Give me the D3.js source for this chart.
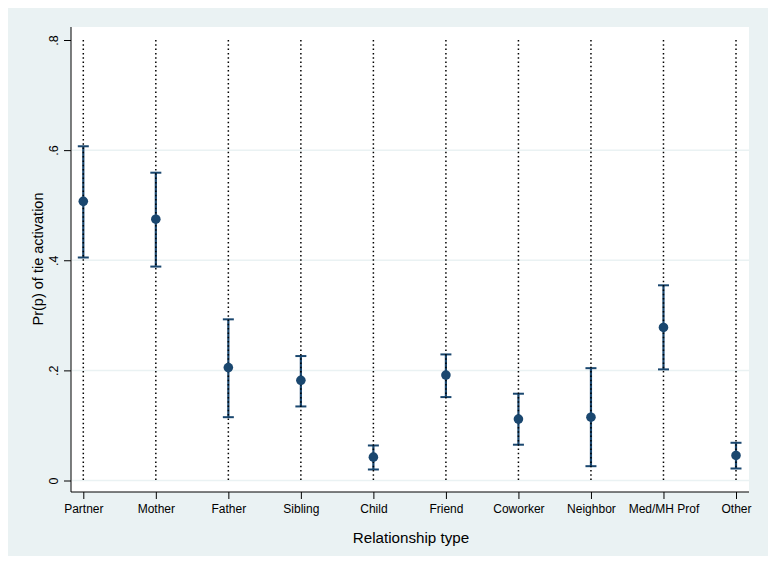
<!DOCTYPE html>
<html><head><meta charset="utf-8">
<script src="https://cdn.jsdelivr.net/npm/d3@7"></script>
<style>body{margin:0;background:#fff;}svg{display:block;font-family:"Liberation Sans",Arial,sans-serif;}</style>
</head><body>
<script>
const categories = ["Partner","Mother","Father","Sibling","Child","Friend","Coworker","Neighbor","Med/MH Prof","Other"];
const estimates = [0.507,0.4745,0.205,0.182,0.0424,0.1915,0.1115,0.115,0.278,0.0455];
const lowerCI   = [0.405,0.3885,0.115,0.1345,0.020,0.1515,0.065,0.026,0.2018,0.0218];
const upperCI   = [0.607,0.559,0.2927,0.226,0.0636,0.229,0.1576,0.204,0.3545,0.0685];
const yTicks = [0,0.2,0.4,0.6,0.8];
const yTickLabels = ["0",".2",".4",".6",".8"];

const W=776,H=564;
const svg=d3.select("body").append("svg").attr("width",W).attr("height",H);
svg.append("rect").attr("x",8).attr("y",8).attr("width",760).attr("height",548).attr("fill","#eaf2f3");
const plot={l:71,r:749,t:27,b:492};
svg.append("rect").attr("x",plot.l).attr("y",plot.t).attr("width",plot.r-plot.l).attr("height",plot.b-plot.t).attr("fill","#fff");

const y=d3.scaleLinear().domain([0,0.8]).range([480.5,40]);
const x=d3.scalePoint().domain(categories).range([83.3,736]);

// gridlines
svg.append("g").selectAll("line").data(yTicks.filter(d=>d<0.8)).join("line")
  .attr("x1",plot.l+1).attr("x2",plot.r).attr("y1",d=>y(d)).attr("y2",d=>y(d))
  .attr("stroke","#eaf2f3").attr("stroke-width",1.5);

// y axis
const yAxis=d3.axisLeft(y).tickValues(yTicks).tickFormat((d,i)=>yTickLabels[i]).tickSize(7).tickSizeOuter(0);
const gy=svg.append("g").attr("transform",`translate(${plot.l},0)`).call(yAxis);
gy.select(".domain").remove();
gy.selectAll(".tick line").attr("stroke","#000").attr("stroke-width",1);
gy.selectAll(".tick text").attr("transform","rotate(-90)").attr("x",0).attr("y",-13).attr("dy","0")
  .attr("text-anchor","middle").attr("font-size",12.5).attr("fill","#000");
svg.append("line").attr("x1",plot.l).attr("x2",plot.l).attr("y1",plot.t).attr("y2",plot.b).attr("stroke","#000").attr("stroke-width",1);

// x axis
const xAxis=d3.axisBottom(x).tickSize(7).tickSizeOuter(0);
const gx=svg.append("g").attr("transform",`translate(0,${plot.b})`).call(xAxis);
gx.select(".domain").remove();
gx.selectAll(".tick line").attr("stroke","#000").attr("stroke-width",1);
gx.selectAll(".tick text").attr("y",12).attr("dy","0.71em").attr("font-size",12).attr("fill","#000");
svg.append("line").attr("x1",plot.l).attr("x2",plot.r).attr("y1",plot.b).attr("y2",plot.b).attr("stroke","#000").attr("stroke-width",1);

// titles
svg.append("text").attr("transform","translate(43,259) rotate(-90)").attr("text-anchor","middle")
  .attr("font-size",14.5).attr("fill","#000").text("Pr(p) of tie activation");
svg.append("text").attr("x",411).attr("y",543).attr("text-anchor","middle")
  .attr("font-size",15.2).attr("fill","#000").text("Relationship type");

const data=categories.map((c,i)=>({c,e:estimates[i],lo:lowerCI[i],hi:upperCI[i]}));
const navy="#1a476f";
// error bars
const eb=svg.append("g");
eb.selectAll("line.v").data(data).join("line").attr("class","v")
  .attr("x1",d=>x(d.c)).attr("x2",d=>x(d.c)).attr("y1",d=>y(d.lo)).attr("y2",d=>y(d.hi))
  .attr("stroke",navy).attr("stroke-width",2.2);
["lo","hi"].forEach(k=>{
  eb.selectAll("line.c"+k).data(data).join("line").attr("class","c"+k)
    .attr("x1",d=>x(d.c)-5.5).attr("x2",d=>x(d.c)+5.5).attr("y1",d=>y(d[k])).attr("y2",d=>y(d[k]))
    .attr("stroke",navy).attr("stroke-width",2);
});
// dotted vertical lines
svg.append("g").selectAll("line").data(categories).join("line")
  .attr("x1",d=>x(d)).attr("x2",d=>x(d)).attr("y1",y(0.8)).attr("y2",y(0))
  .attr("stroke","#000").attr("stroke-width",1.5).attr("stroke-dasharray","1.5,2.8");
// markers
svg.append("g").selectAll("circle").data(data).join("circle")
  .attr("cx",d=>x(d.c)).attr("cy",d=>y(d.e)).attr("r",4.8).attr("fill",navy);
</script>
</body></html>
